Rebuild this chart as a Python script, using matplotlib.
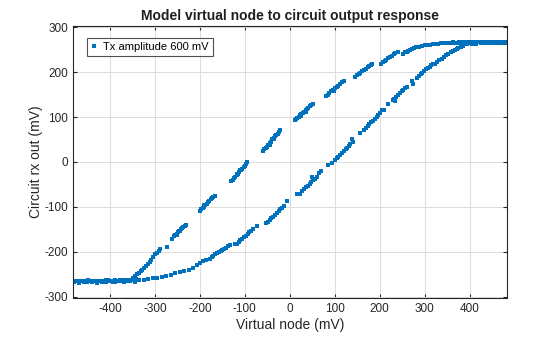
import matplotlib.pyplot as plt
import numpy as np

plt.rcParams['font.family'] = ['Liberation Sans', 'DejaVu Sans']
plt.rcParams['axes.unicode_minus'] = False

# Flat saturated band at the bottom (both branches overlap here)
flat_x = [-483, -480, -477, -473, -470, -466, -463, -459, -455, -452, -448, -444, -441, -437,
          -433, -430, -426, -422, -419, -415, -411, -408, -404, -400, -397, -393, -389, -386,
          -382, -378, -375, -371, -367, -364, -360, -356, -353, -349, -345, -342, -338,
          -470, -450, -430, -410, -390, -370, -355, -345]
flat_y = [-266, -267, -265, -266, -268, -266, -265, -267, -266, -268, -265, -266, -267, -265,
          -266, -268, -266, -265, -267, -265, -266, -267, -264, -266, -265, -267, -264, -266,
          -265, -263, -266, -264, -265, -262, -265, -263, -264, -262, -264, -261, -263,
          -269, -264, -269, -263, -268, -268, -266, -267]

# Left (upper) branch of the loop
up_x = [-350, -345, -340, -336, -332, -328, -324, -320, -316, -312, -308, -304, -300, -296,
        -292, -288, -274,
        -262, -258, -255, -252, -249, -246, -243, -240, -237, -234, -231, -250, -244,
        -200, -197, -194, -191, -188, -185, -182, -179, -176, -173, -170, -166, -190, -180,
        -131, -127, -124, -121, -118, -115, -112, -109, -106, -103, -100, -97, -95, -118, -110,
        -60, -57, -54, -51, -48, -45, -42, -39, -36, -33, -30, -27, -24, -21, -45, -35,
        11, 14, 17, 20, 23, 26, 29, 32, 35, 38, 41, 44, 47, 51, 25, 35,
        80, 84, 88, 92, 96, 100, 104, 108, 112, 116, 120, 98,
        145, 149, 153, 157, 161, 165, 169, 173, 177, 181, 184,
        203, 207, 211, 215, 219, 223, 227, 231, 235, 240,
        252, 256, 260, 264, 268, 272, 276, 280, 284,
        288, 294, 300, 306, 312, 318, 324, 330, 336, 340]
up_y = [-258, -255, -250, -247, -244, -240, -236, -232, -228, -222, -218, -212, -206, -202,
        -198, -194, -190,
        -172, -166, -162, -160, -157, -153, -150, -148, -146, -143, -140, -162, -155,
        -110, -106, -103, -100, -96, -93, -90, -86, -83, -80, -78, -75, -97, -88,
        -42, -41, -36, -33, -30, -26, -22, -19, -15, -12, -8, -4, 0, -26, -17,
        24, 28, 31, 34, 38, 42, 45, 50, 53, 57, 60, 63, 67, 71, 38, 52,
        93, 96, 98, 101, 104, 107, 110, 112, 115, 118, 121, 124, 127, 130, 103, 112,
        146, 150, 153, 157, 160, 164, 167, 170, 174, 177, 181, 158,
        190, 193, 196, 199, 202, 205, 208, 211, 214, 216, 218,
        218, 222, 225, 228, 231, 234, 237, 240, 243, 245,
        240, 244, 246, 248, 250, 252, 254, 256, 257,
        257, 259, 260, 261, 261, 262, 263, 263, 264, 264]

# Right (lower) branch of the loop
down_x = [-335, -325, -315, -305, -295, -285, -275, -265, -255, -245, -235, -225, -215, -207,
          -200, -194, -186, -178,
          -174, -170, -166, -162, -158, -154, -150, -146, -142, -138, -134,
          -122, -118, -114, -110, -106, -102, -98, -94, -90, -86, -82, -73,
          -53, -49, -45, -41, -37, -33, -29, -25, -21, -17, -13, -7,
          16, 22, 28, 32, 36, 40, 44, 48, 52, 56, 60, 65, 70, 49,
          85, 94, 100, 104, 108, 112, 116, 120, 124, 128, 132, 134, 140, 138, 156,
          165, 169, 173, 177, 181, 185, 189, 193, 197, 201, 205, 210, 218, 234,
          229, 233, 237, 241, 245, 249, 253, 257, 261, 272, 274,
          283, 287, 291, 295, 299, 303, 307, 311, 315, 318,
          323, 328, 333, 338, 343, 348, 353, 358, 363, 368, 372,
          375, 380, 385, 390, 395, 400]
down_y = [-264, -262, -261, -259, -258, -256, -254, -252, -248, -245, -243, -240, -236, -230,
          -225, -221, -219, -217,
          -212, -209, -206, -204, -201, -198, -196, -193, -191, -188, -186,
          -183, -182, -179, -175, -171, -168, -165, -160, -156, -153, -150, -143,
          -135, -133, -130, -126, -122, -118, -114, -110, -106, -102, -99, -88,
          -71, -71, -65, -60, -56, -53, -49, -45, -41, -37, -33, -25, -20, -33,
          -7, -3, 4, 8, 12, 16, 20, 24, 28, 32, 36, 40, 44, 50, 64,
          71, 76, 80, 84, 88, 92, 96, 100, 104, 110, 115, 116, 128, 135,
          137, 141, 145, 149, 153, 157, 161, 165, 168, 181, 174,
          188, 192, 196, 199, 203, 206, 209, 212, 215, 218,
          218, 222, 227, 230, 234, 238, 241, 244, 247, 250, 252,
          254, 257, 259, 262, 263, 265]

# Flat saturated band at the top
top_x = [340, 344, 348, 352, 356, 360, 364, 368, 372, 376, 380, 384, 388, 392, 396, 400,
         404, 408, 412, 416, 420, 424, 428, 432, 436, 440, 444, 448, 452, 456, 460, 464,
         468, 472, 476, 480, 483, 405, 415, 425, 435, 445, 455]
top_y = [264, 265, 264, 266, 265, 266, 267, 265, 266, 267, 266, 268, 266, 267, 268, 266,
         267, 268, 266, 267, 268, 267, 266, 268, 267, 266, 268, 267, 266, 267, 268, 266,
         267, 266, 267, 266, 267, 262, 263, 264, 265, 264, 265]

x_all = np.concatenate([flat_x, up_x, down_x, top_x])
y_all = np.concatenate([flat_y, up_y, down_y, top_y])

fig = plt.figure(figsize=(5.6, 3.37), dpi=100)
ax = fig.add_axes([0.13, 0.116, 0.775, 0.807])

ax.plot(x_all, y_all, 's', color='#0072BD', markersize=2.2, markeredgewidth=0,
        label='Tx amplitude 600 mV')

ax.set_xlim(-483, 483)
ax.set_ylim(-303, 303)
ax.set_xticks([-400, -300, -200, -100, 0, 100, 200, 300, 400])
ax.set_yticks([-300, -200, -100, 0, 100, 200, 300])
ax.grid(True, color='#dcdcdc', linewidth=0.7)
ax.set_axisbelow(True)
ax.tick_params(direction='in', top=True, right=True, labelsize=8.5, length=3,
               color='#262626', labelcolor='#262626')
for s in ax.spines.values():
    s.set_color('#262626')
    s.set_linewidth(0.8)

ax.set_title('Model virtual node to circuit output response', fontsize=10,
             fontweight='bold', color='#202020', pad=4)
ax.set_xlabel('Virtual node (mV)', fontsize=10, color='#262626', labelpad=2)
ax.set_ylabel('Circuit rx out (mV)', fontsize=10, color='#262626', labelpad=1)

leg = ax.legend(loc='upper left', fontsize=8, frameon=True, fancybox=False,
                edgecolor='#262626', handlelength=0.6, handletextpad=0.5,
                borderpad=0.35, markerscale=1.0, bbox_to_anchor=(0.02, 0.975))
leg.get_frame().set_linewidth(0.8)

fig.savefig('out.png', dpi=100)
